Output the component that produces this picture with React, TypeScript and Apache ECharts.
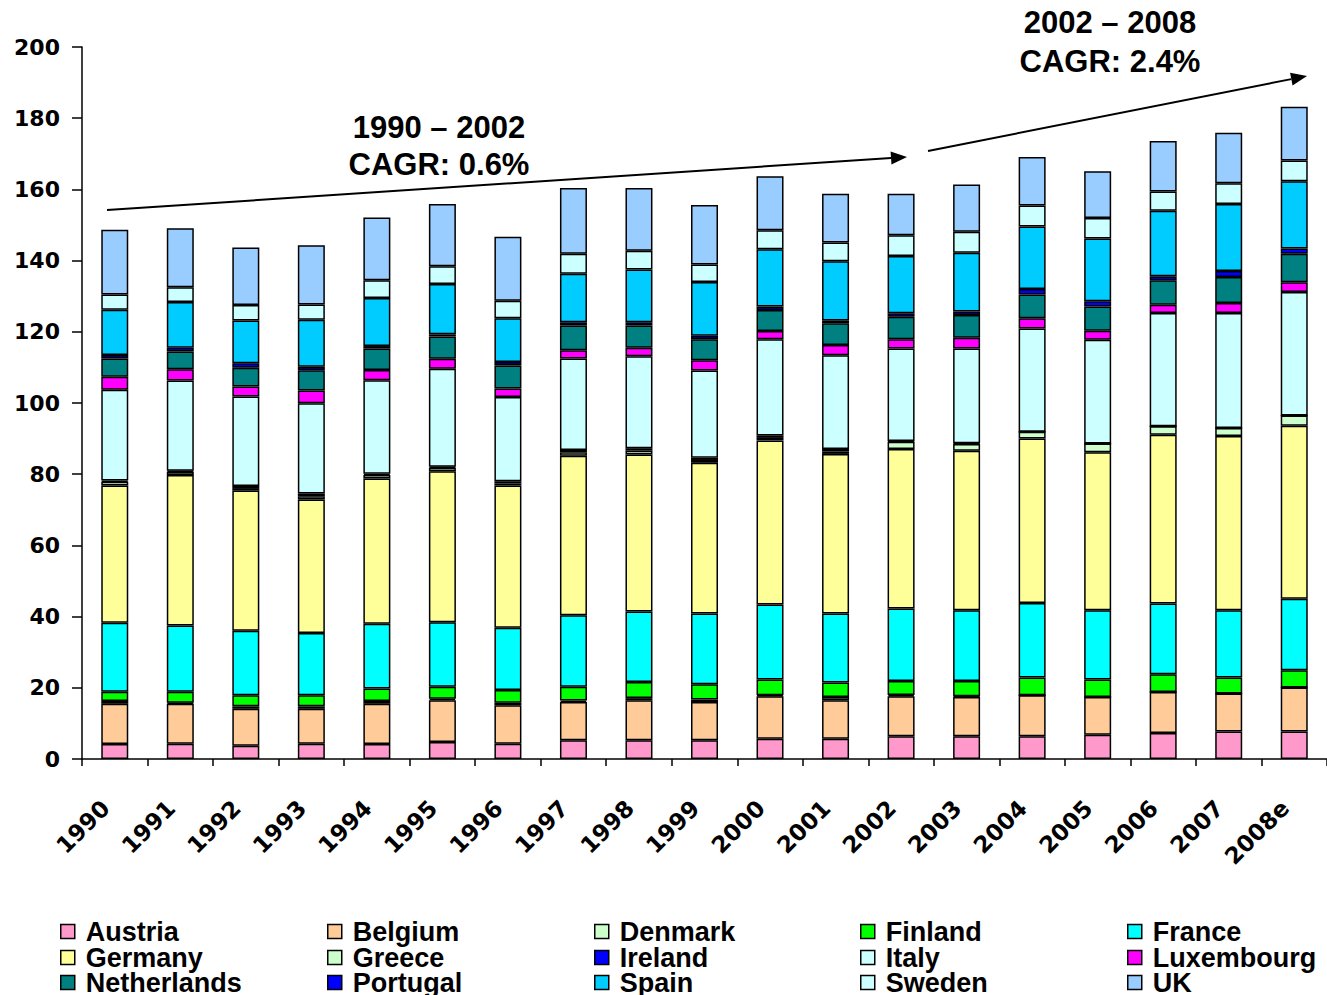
import React, { useEffect, useRef } from "react";
import * as echarts from "echarts";

const categories = ["1990","1991","1992","1993","1994","1995","1996","1997","1998","1999","2000","2001","2002","2003","2004","2005","2006","2007","2008e"];
const yTicks = [0, 20, 40, 60, 80, 100, 120, 140, 160, 180, 200];

const austria = [4.2,4.3,3.7,4.3,4.2,4.8,4.3,5.3,5.3,5.3,5.7,5.7,6.4,6.4,6.4,6.8,7.3,7.7,7.7];
const belgium = [11.3,11.2,10.4,9.8,11.3,11.7,10.8,10.7,11.2,10.7,11.9,10.8,11.2,11.0,11.5,10.6,11.5,10.7,12.4];
const denmark = [0.8,0.3,0.7,0.7,0.8,0.4,0.7,0.4,0.6,0.7,0.3,0.9,0.4,0.2,0,0,0,0,0];
const finland = [2.6,3.1,3.1,3.1,3.5,3.4,3.6,3.9,4.5,4.3,4.4,4.1,3.9,4.3,5.0,4.9,5.0,4.5,4.8];
const france = [19.4,18.6,18.1,17.5,18.2,18.1,17.5,20.1,19.8,19.9,21.1,19.4,20.4,19.9,20.9,19.5,19.9,18.9,20.1];
const germany = [38.5,42.3,39.4,37.5,40.8,42.4,39.9,44.8,44.1,42.3,46.1,44.8,44.8,44.8,46.2,44.4,47.4,48.9,48.6];
const greece = [1.1,0.9,0.7,0.9,1.0,1.0,0.6,1.0,1.1,0.8,0.7,0.7,2.0,1.9,1.9,2.4,2.4,2.3,2.9];
const ireland = [0.3,0.3,0.6,0.8,0.3,0.3,0.6,0.6,0.7,0.6,0.7,0.7,0.2,0.2,0,0,0,0,0];
const italy = [25.5,25.3,25.1,25.3,26.3,27.5,23.7,25.7,25.8,24.5,27.0,26.3,26.0,26.6,29.0,29.2,31.8,32.3,34.7];
const luxembourg = [3.7,3.2,2.8,3.6,2.9,2.8,2.4,2.3,2.4,2.9,2.3,2.9,2.6,3.0,2.9,2.5,2.3,2.8,2.7];
const netherlands = [5.1,5.0,5.3,5.7,6.0,6.3,6.4,7.0,6.3,5.9,5.9,6.1,6.3,6.4,6.7,6.8,6.9,7.3,8.0];
const portugal = [1.0,1.0,1.3,1.0,0.7,0.6,1.0,0.9,0.9,1.0,1.0,0.8,1.0,1.0,1.5,1.5,1.1,1.7,1.5];
const spain = [12.7,12.9,12.0,13.2,13.5,14.1,12.3,13.6,14.8,15.1,16.1,16.6,16.1,16.5,17.6,17.6,18.4,18.8,18.9];
const sweden = [4.3,4.1,4.3,4.3,5.0,5.0,4.9,5.6,5.3,4.9,5.3,5.3,5.8,5.9,5.9,5.8,5.4,5.8,5.8];
const uk = [18.2,16.6,16.2,16.6,17.6,17.5,18.0,18.5,17.6,16.7,15.2,13.7,11.7,13.3,13.6,13.1,14.2,14.2,15.1];

const seriesNames = ["Austria","Belgium","Denmark","Finland","France","Germany","Greece","Ireland","Italy","Luxembourg","Netherlands","Portugal","Spain","Sweden","UK"];
const seriesData = [austria, belgium, denmark, finland, france, germany, greece, ireland, italy, luxembourg, netherlands, portugal, spain, sweden, uk];
const seriesColors = ["#FF99CC","#FFCC99","#CCFFCC","#00FF00","#00FFFF","#FFFF99","#CCFFCC","#0000FF","#CCFFFF","#FF00FF","#008080","#0000FF","#00CCFF","#CCFFFF","#99CCFF"];

const legendColumns = [
  ["Austria", "Germany", "Netherlands"],
  ["Belgium", "Greece", "Portugal"],
  ["Denmark", "Ireland", "Spain"],
  ["Finland", "Italy", "Sweden"],
  ["France", "Luxembourg", "UK"],
];
const legendLefts = [60, 327, 594, 860, 1127];
const legendTops = [918, 944, 969];

const annotations = [
  { lines: ["1990 – 2002", "CAGR: 0.6%"], x: 439, y: [127, 164] },
  { lines: ["2002 – 2008", "CAGR: 2.4%"], x: 1110, y: [22, 61] },
];

function arrow(x1: number, y1: number, x2: number, y2: number) {
  const dx = x2 - x1, dy = y2 - y1;
  const len = Math.sqrt(dx * dx + dy * dy);
  const ux = dx / len, uy = dy / len;
  const hl = 16, hw = 6.5;
  const bx = x2 - ux * hl, by = y2 - uy * hl;
  const px = -uy * hw, py = ux * hw;
  return [
    { type: "line", shape: { x1, y1, x2: bx, y2: by }, style: { stroke: "#000", lineWidth: 2 } },
    { type: "polygon", shape: { points: [[x2, y2], [bx + px, by + py], [bx - px, by - py]] }, style: { fill: "#000" } },
  ];
}

export default function App() {
  const ref = useRef<HTMLDivElement>(null);
  useEffect(() => {
    document.body.style.margin = "0";
    const chart = echarts.init(ref.current!, null, { renderer: "svg" });
    const graphics: any[] = [];
    annotations.forEach((a) => {
      a.lines.forEach((t, i) => {
        graphics.push({
          type: "text",
          x: a.x,
          y: a.y[i],
          style: {
            text: t,
            fill: "#000",
            font: 'bold 31px "Liberation Sans", Arial, sans-serif',
            textAlign: "center",
            textVerticalAlign: "middle",
          },
        });
      });
    });
    graphics.push(...arrow(107, 210, 907, 157));
    graphics.push(...arrow(928, 151, 1307, 76));

    const legends: any[] = [];
    legendColumns.forEach((col, c) => {
      col.forEach((name, r) => {
        legends.push({
          orient: "horizontal",
          left: legendLefts[c],
          top: legendTops[r],
          padding: 0,
          itemGap: 0,
          itemWidth: 14,
          itemHeight: 14,
          icon: "rect",
          selectedMode: false,
          data: [name],
          itemStyle: { borderColor: "#000", borderWidth: 1.5 },
          textStyle: {
            fontFamily: "Liberation Sans",
            fontWeight: "bold",
            fontSize: 27,
            lineHeight: 26,
            color: "#000",
            padding: [0, 0, 0, 6],
          },
        });
      });
    });

    chart.setOption({
      animation: false,
      backgroundColor: "#fff",
      grid: { left: 82, top: 47, width: 1259, height: 712, containLabel: false },
      xAxis: {
        type: "category",
        data: categories,
        axisLine: { lineStyle: { color: "#000", width: 1.5 } },
        axisTick: { show: true, length: 7, lineStyle: { color: "#000", width: 1.5 } },
        axisLabel: {
          rotate: 45,
          interval: 0,
          margin: 36,
          color: "#000",
          fontFamily: "DejaVu Sans",
          fontWeight: "bold",
          fontSize: 23,
          padding: [0, 13, 0, 0],
        },
      },
      yAxis: {
        type: "value",
        min: yTicks[0],
        max: yTicks[yTicks.length - 1],
        interval: 20,
        splitLine: { show: false },
        axisLine: { show: true, lineStyle: { color: "#000", width: 1.5 } },
        axisTick: { show: true, length: 10, lineStyle: { color: "#000", width: 1.5 } },
        axisLabel: {
          margin: 22,
          color: "#000",
          fontFamily: "DejaVu Sans",
          fontWeight: "bold",
          fontSize: 22,
        },
      },
      legend: legends,
      series: seriesNames.map((name, i) => ({
        name,
        type: "bar",
        stack: "total",
        barWidth: 27,
        data: seriesData[i],
        itemStyle: { color: seriesColors[i], borderColor: "#000", borderWidth: 1.5 },
      })),
      graphic: graphics,
    });
    return () => chart.dispose();
  }, []);
  return <div ref={ref} style={{ width: 1327, height: 995 }} />;
}
